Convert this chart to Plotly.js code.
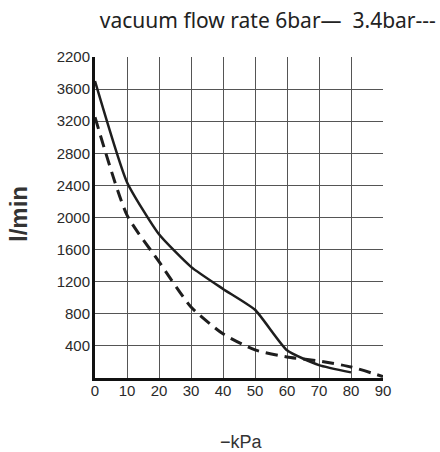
<!DOCTYPE html>
<html><head><meta charset="utf-8">
<script src="https://cdn.plot.ly/plotly-3.0.1.min.js"></script>
<style>html,body{margin:0;padding:0;background:#fff}#chart{width:440px;height:452px}</style>
</head><body><div id="chart"></div>
<script>
// Data
const kPa6 = [0, 10, 20, 30, 40, 50, 60, 70, 80];
const flow6bar = [3700, 2440, 1790, 1385, 1110, 850, 345, 160, 70];
const kPa34 = [0, 10, 20, 30, 40, 50, 60, 70, 80, 90];
const flow34bar = [3250, 2030, 1450, 885, 550, 350, 262, 212, 138, 18];
const xTicks = [0, 10, 20, 30, 40, 50, 60, 70, 80, 90];
const yTickVals = [400, 800, 1200, 1600, 2000, 2400, 2800, 3200, 3600, 4000];
const yTickText = ['400', '800', '1200', '1600', '2000', '2400', '2800', '3200', '3600', '2200'];

const tickFont = {family: 'Arial', size: 15, color: '#2a2a2a'};

const traces = [
  {x: kPa6, y: flow6bar, mode: 'lines', name: '6bar',
   line: {color: '#1e1e1e', width: 2.5, shape: 'spline', smoothing: 0.5}},
  {x: kPa34, y: flow34bar, mode: 'lines', name: '3.4bar',
   line: {color: '#1e1e1e', width: 3, dash: '12px,7px', shape: 'spline', smoothing: 0.6}}
];

const layout = {
  width: 440, height: 452,
  margin: {l: 95, r: 57, t: 57, b: 74},
  paper_bgcolor: '#fff', plot_bgcolor: '#fff',
  showlegend: false,
  title: {text: 'vacuum flow rate 6bar—  3.4bar---', x: 0.6, xanchor: 'center',
          y: 0.955, yanchor: 'middle', xref: 'paper',
          font: {family: "'Noto Sans', 'Open Sans', sans-serif", size: 21, color: '#222'}},
  xaxis: {range: [0, 90], tickvals: xTicks, ticktext: xTicks.map(String),
          showgrid: true, gridcolor: '#555', gridwidth: 1,
          showline: true, linecolor: '#111', linewidth: 3,
          zeroline: false, ticks: '', tickfont: tickFont, ticklabelstandoff: -3, fixedrange: true},
  yaxis: {range: [0, 4000], tickvals: yTickVals, ticktext: yTickText,
          showgrid: true, gridcolor: '#555', gridwidth: 1,
          showline: true, linecolor: '#111', linewidth: 3,
          zeroline: false, ticks: '', tickfont: tickFont, ticklabelstandoff: -1, fixedrange: true},
  annotations: [
    {text: '<b>l/min</b>', xref: 'paper', yref: 'paper', x: -0.265, y: 0.51, textangle: -90,
     showarrow: false, xanchor: 'center', yanchor: 'middle',
     font: {family: 'Arial', size: 24, color: '#333'}},
    {text: '−kPa', xref: 'paper', yref: 'paper', x: 0.51, y: -0.198, showarrow: false,
     xanchor: 'center', yanchor: 'middle',
     font: {family: 'Arial', size: 18, color: '#333'}}
  ]
};

Plotly.newPlot('chart', traces, layout, {staticPlot: true, displayModeBar: false});
</script>
</body></html>
